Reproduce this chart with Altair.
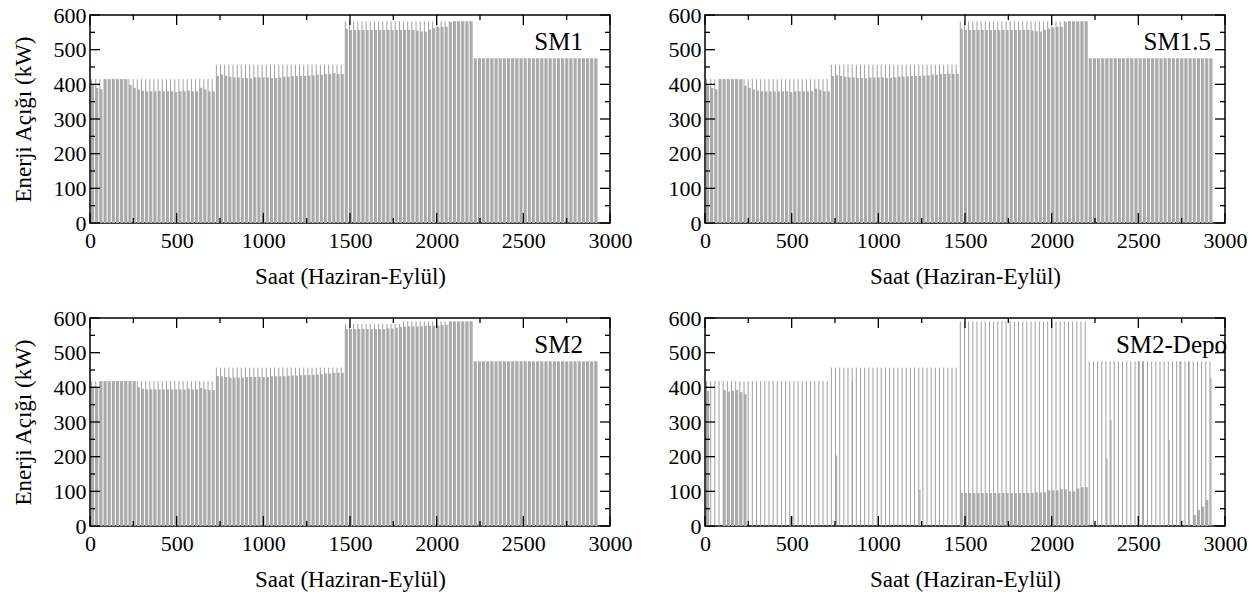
import altair as alt
import pandas as pd

FONT = "Liberation Serif"
W, H = 520, 208

# ---- daily values (June 30 d, July 31 d, August 31 d, September 30 d) ----
# peak = short evening spike, plateau = night-time deficit level (kW)
sm1_peak = [415] * 30 + [457] * 31 + [582] * 31 + [475] * 30
sm1_plateau = (
    [398, 390, 386, 415, 415, 415, 415, 415, 415, 398, 390, 385, 382, 380, 380,
     380, 381, 380, 380, 380, 378, 380, 380, 382, 380, 380, 390, 385, 380, 380]
    + [425, 428, 425, 422, 420, 420, 418, 418, 417, 420, 420, 420, 420, 418, 418, 420,
       422, 422, 424, 424, 424, 424, 425, 426, 428, 428, 430, 430, 432, 430, 430]
    + [560, 557, 557, 557, 557, 557, 557, 557, 557, 557, 557, 557, 557, 557, 557, 557,
       557, 555, 553, 552, 558, 562, 565, 566, 566, 580, 582, 582, 582, 582, 582]
    + [475] * 30
)

sm15_peak = [415] * 30 + [457] * 31 + [582] * 31 + [475] * 30
sm15_plateau = (
    [398, 390, 386, 415, 415, 415, 415, 415, 415, 396, 390, 385, 382, 380, 380,
     380, 380, 380, 380, 380, 378, 380, 380, 380, 380, 380, 388, 384, 380, 380]
    + [424, 426, 424, 422, 420, 420, 418, 418, 417, 419, 420, 420, 420, 418, 418, 420,
       422, 422, 423, 424, 424, 424, 425, 426, 428, 428, 430, 430, 431, 430, 430]
    + [560, 557, 557, 557, 557, 557, 557, 557, 557, 557, 557, 557, 557, 557, 557, 557,
       557, 555, 553, 552, 557, 561, 564, 566, 566, 580, 582, 582, 582, 582, 582]
    + [475] * 30
)

sm2_peak = [418] * 30 + [457] * 31 + [583] * 14 + [590] * 17 + [475] * 30
sm2_plateau = (
    [402, 400, 418, 418, 418, 418, 418, 418, 418, 418, 418, 400, 396, 394, 394,
     394, 394, 394, 394, 394, 394, 394, 394, 396, 394, 394, 398, 394, 392, 392]
    + [433, 432, 430, 428, 428, 428, 428, 430, 430, 430, 430, 430, 430, 432, 432, 432,
       432, 433, 434, 434, 435, 435, 436, 436, 437, 438, 440, 440, 442, 442, 442]
    + [568, 568, 568, 568, 568, 568, 568, 568, 568, 568, 570, 570, 572, 574, 575, 576,
       576, 576, 576, 577, 578, 578, 578, 580, 580, 590, 590, 590, 590, 590, 590]
    + [475] * 30
)

dep_peak = [418] * 30 + [457] * 31 + [590] * 31 + [475] * 30
dep_plateau = (
    [390, 0, 0, 0, 392, 388, 390, 392, 386, 380, 0, 0, 0, 0, 0,
     0, 0, 0, 0, 0, 0, 0, 0, 0, 0, 0, 0, 0, 0, 0]
    + [0] * 31
    + [96, 95, 95, 95, 95, 95, 95, 95, 95, 95, 95, 95, 95, 95, 95, 95,
       95, 95, 97, 97, 97, 103, 103, 103, 106, 106, 100, 100, 108, 112, 112]
    + [0] * 15 + [0] * 10 + [32, 46, 56, 75] + [0]
)
# isolated extra spikes (hour, kW)
dep_extra_h = [494, 760, 850, 1240, 2319, 2342, 2500, 2525, 2677, 2740, 2790, 2919]
dep_extra_v = [29, 203, 416, 106, 195, 306, 475, 475, 248, 475, 475, 427]

x_major = [0, 500, 1000, 1500, 2000, 2500, 3000]
x_minor = [250, 750, 1250, 1750, 2250, 2750]
y_major = [0, 100, 200, 300, 400, 500, 600]
y_minor = [50, 150, 250, 350, 450, 550]

XS = alt.Scale(domain=[0, 3000], nice=False, zero=False)
YS = alt.Scale(domain=[0, 600], nice=False)


def make_axes(ytitle):
    common = dict(ticks=False, domain=False, grid=False, format="d",
                  labelFont=FONT, labelFontSize=22, labelColor="black",
                  titleFont=FONT, titleFontSize=23, titleFontWeight="normal",
                  titleColor="black")
    xaxis = alt.Axis(values=x_major, labelFlush=False, labelPadding=7,
                     title="Saat (Haziran-Eylül)", titlePadding=14, **common)
    if ytitle:
        yaxis = alt.Axis(values=y_major, labelPadding=4, title=ytitle,
                         titlePadding=18, **common)
    else:
        yaxis = alt.Axis(values=y_major, labelPadding=4, title=None, **common)
    return xaxis, yaxis


def tick_layers(xaxis, yaxis):
    layers = []
    for vals, ln in ((y_major, 10), (y_minor, 5)):
        d = pd.DataFrame({"v": vals})
        layers.append(alt.Chart(d).mark_rule(color="black", strokeWidth=1.3).encode(
            y=alt.Y("v:Q", scale=YS, axis=yaxis), x=alt.value(0), x2=alt.value(ln)))
        layers.append(alt.Chart(d).mark_rule(color="black", strokeWidth=1.3).encode(
            y=alt.Y("v:Q", scale=YS, axis=yaxis), x=alt.value(W), x2=alt.value(W - ln)))
    for vals, ln in ((x_major, 10), (x_minor, 5)):
        d = pd.DataFrame({"v": vals})
        layers.append(alt.Chart(d).mark_rule(color="black", strokeWidth=1.3).encode(
            x=alt.X("v:Q", scale=XS, axis=xaxis), y=alt.value(H), y2=alt.value(H - ln)))
        layers.append(alt.Chart(d).mark_rule(color="black", strokeWidth=1.3).encode(
            x=alt.X("v:Q", scale=XS, axis=xaxis), y=alt.value(0), y2=alt.value(ln)))
    return layers


def panel(name, peak, plateau, ytitle, label_right, extra_h=(), extra_v=()):
    xaxis, yaxis = make_axes(ytitle)
    days = list(range(len(peak)))
    df = pd.DataFrame({
        "h0": [d * 24 + 9 for d in days],
        "h1": [d * 24 + 24 for d in days],
        "zero": [0] * len(days),
        "peak": peak,
        "plateau": plateau,
    })
    rects = alt.Chart(df).mark_rect(color="#adadad").encode(
        x=alt.X("h0:Q", scale=XS, axis=xaxis), x2="h1:Q",
        y=alt.Y("zero:Q", scale=YS, axis=yaxis), y2="plateau:Q")
    rules = alt.Chart(df).mark_rule(color="#a0a0a0", strokeWidth=1).encode(
        x=alt.X("h0:Q", scale=XS, axis=xaxis),
        y=alt.Y("zero:Q", scale=YS, axis=yaxis), y2="peak:Q")
    layers = [rects, rules]
    if len(extra_h):
        ed = pd.DataFrame({"h": list(extra_h), "v": list(extra_v), "zero": [0] * len(extra_h)})
        layers.append(alt.Chart(ed).mark_rule(color="#999999", strokeWidth=1).encode(
            x=alt.X("h:Q", scale=XS, axis=xaxis),
            y=alt.Y("zero:Q", scale=YS, axis=yaxis), y2="v:Q"))
    label = alt.Chart(pd.DataFrame({"t": [name]})).mark_text(
        font=FONT, fontSize=25, align="right", baseline="alphabetic", color="black"
    ).encode(text="t:N", x=alt.value(label_right), y=alt.value(35))
    layers += tick_layers(xaxis, yaxis) + [label]
    return alt.layer(*layers).properties(width=W, height=H)


p1 = panel("SM1", sm1_peak, sm1_plateau, "Enerji Açığı (kW)", 493)
p2 = panel("SM1.5", sm15_peak, sm15_plateau, None, 506)
p3 = panel("SM2", sm2_peak, sm2_plateau, "Enerji Açığı (kW)", 493)
p4 = panel("SM2-Depo", dep_peak, dep_plateau, None, 522, dep_extra_h, dep_extra_v)

chart = alt.vconcat(
    alt.hconcat(p1, p2, spacing=34),
    alt.hconcat(p3, p4, spacing=34),
    spacing=17,
).properties(
    padding={"left": 11, "top": 3, "right": 5, "bottom": 5},
    background="white",
).configure_view(
    stroke="black", strokeWidth=1.5
)

chart.save("out.html", embed_options={"renderer": "svg", "actions": False})
